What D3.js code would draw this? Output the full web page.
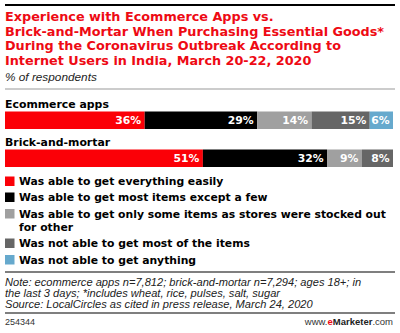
<!DOCTYPE html>
<html>
<head>
<meta charset="utf-8">
<script src="https://cdn.jsdelivr.net/npm/d3@7/dist/d3.min.js"></script>
<style>
  html, body { margin: 0; padding: 0; background: #fff; }
  svg { display: block; }
  text { font-family: "Liberation Sans", Arial, sans-serif; }
  .heavy { font-family: "DejaVu Sans", "Liberation Sans", sans-serif; font-weight: bold; }
</style>
</head>
<body>
<svg id="chart" width="400" height="333"></svg>
<script>
// Survey groups and answer shares (% of respondents)
const categories = ["Ecommerce apps", "Brick-and-mortar"];
const answers = [
  "Was able to get everything easily",
  "Was able to get most items except a few",
  "Was able to get only some items as stores were stocked out for other",
  "Was not able to get most of the items",
  "Was not able to get anything"
];
const everythingEasily = [36, 51];
const mostItems = [29, 32];
const someItems = [14, 9];
const notMostItems = [15, 8];
const nothingAtAll = [6, 0];

const titleLines = [
  "Experience with Ecommerce Apps vs.",
  "Brick-and-Mortar When Purchasing Essential Goods*",
  "During the Coronavirus Outbreak According to",
  "Internet Users in India, March 20-22, 2020"
];
const subtitle = "% of respondents";
const noteLines = [
  "Note: ecommerce apps n=7,812; brick-and-mortar n=7,294; ages 18+; in",
  "the last 3 days; *includes wheat, rice, pulses, salt, sugar",
  "Source: LocalCircles as cited in press release, March 24, 2020"
];
const chartId = "254344";

const colors = ["#fb0007", "#000000", "#a0a0a0", "#666666", "#66a9cd"];
const keys = ["a", "b", "c", "d", "e"];
const rows = categories.map((c, i) => ({
  category: c,
  a: everythingEasily[i], b: mostItems[i], c: someItems[i], d: notMostItems[i], e: nothingAtAll[i]
}));
const stacked = d3.stack().keys(keys)(rows);

const svg = d3.select("#chart");

// header rules
svg.append("rect").attr("x", 5).attr("y", 4).attr("width", 390).attr("height", 2).attr("fill", "#000");

svg.append("g").selectAll("text").data(titleLines).join("text")
  .attr("class", "heavy")
  .attr("x", 5).attr("y", (d, i) => 21 + i * 14.7)
  .attr("fill", "#ee0a14").attr("font-size", 12.8)
  .text(d => d);

svg.append("text").attr("x", 5).attr("y", 81)
  .attr("font-size", 11.8).attr("font-style", "italic").attr("fill", "#222")
  .text(subtitle);

svg.append("rect").attr("x", 5).attr("y", 88.5).attr("width", 390).attr("height", 1).attr("fill", "#999");

// bars
const x = d3.scaleLinear().domain([0, 100]).range([5, 393]);
const y = d3.scaleOrdinal().domain(categories).range([111.5, 149.5]);
const barH = 17.5;

svg.append("g").selectAll("text").data(categories).join("text")
  .attr("class", "heavy")
  .attr("x", 5).attr("y", d => y(d) - 3.8)
  .attr("font-size", 10.9).attr("fill", "#000")
  .text(d => d);

const layers = svg.append("g").selectAll("g").data(stacked).join("g")
  .attr("fill", (d, i) => colors[i]);

layers.selectAll("rect").data(d => d.filter(s => s[1] - s[0] > 0)).join("rect")
  .attr("x", s => x(s[0]))
  .attr("y", s => y(s.data.category))
  .attr("width", s => x(s[1]) - x(s[0]))
  .attr("height", barH);

layers.selectAll("text").data(d => d.filter(s => s[1] - s[0] > 0)).join("text")
  .attr("class", "heavy")
  .attr("x", s => x(s[1]) - 3.5)
  .attr("y", s => y(s.data.category) + barH / 2 + 4.2)
  .attr("text-anchor", "end")
  .attr("font-size", 10.8).attr("fill", "#fff")
  .text(s => (s[1] - s[0]) + "%");

// legend
const legendLines = [
  ["Was able to get everything easily"],
  ["Was able to get most items except a few"],
  ["Was able to get only some items as stores were stocked out", "for other"],
  ["Was not able to get most of the items"],
  ["Was not able to get anything"]
];
const legendY = [185, 201, 217.5, 247, 263.5];
const legend = svg.append("g").selectAll("g").data(answers).join("g");
legend.append("rect")
  .attr("x", 5).attr("y", (d, i) => legendY[i] - 8.5)
  .attr("width", 9.5).attr("height", 9.5)
  .attr("fill", (d, i) => colors[i]);
legend.append("text")
  .attr("class", "heavy")
  .attr("x", 19).attr("y", (d, i) => legendY[i])
  .attr("font-size", 10.8).attr("fill", "#000")
  .selectAll("tspan").data((d, i) => legendLines[i]).join("tspan")
  .attr("x", 19).attr("dy", (d, j) => j === 0 ? 0 : 13)
  .text(d => d);

// footer
svg.append("rect").attr("x", 5).attr("y", 271.5).attr("width", 390).attr("height", 1).attr("fill", "#000");

svg.append("g").selectAll("text").data(noteLines).join("text")
  .attr("x", 5).attr("y", (d, i) => 285.5 + i * 11.3)
  .attr("font-size", 11.1).attr("font-style", "italic").attr("fill", "#222")
  .text(d => d);

svg.append("rect").attr("x", 5).attr("y", 312.5).attr("width", 390).attr("height", 1).attr("fill", "#000");

svg.append("text").attr("x", 5).attr("y", 325)
  .attr("font-size", 9).attr("fill", "#333").text(chartId);

const brand = svg.append("text").attr("x", 393).attr("y", 325)
  .attr("text-anchor", "end").attr("font-size", 9.5).attr("fill", "#333");
brand.append("tspan").text("www.");
brand.append("tspan").attr("fill", "#ee0a14").attr("font-weight", "bold").text("e");
brand.append("tspan").attr("font-weight", "bold").attr("fill", "#222").text("Marketer");
brand.append("tspan").text(".com");
</script>
</body>
</html>
